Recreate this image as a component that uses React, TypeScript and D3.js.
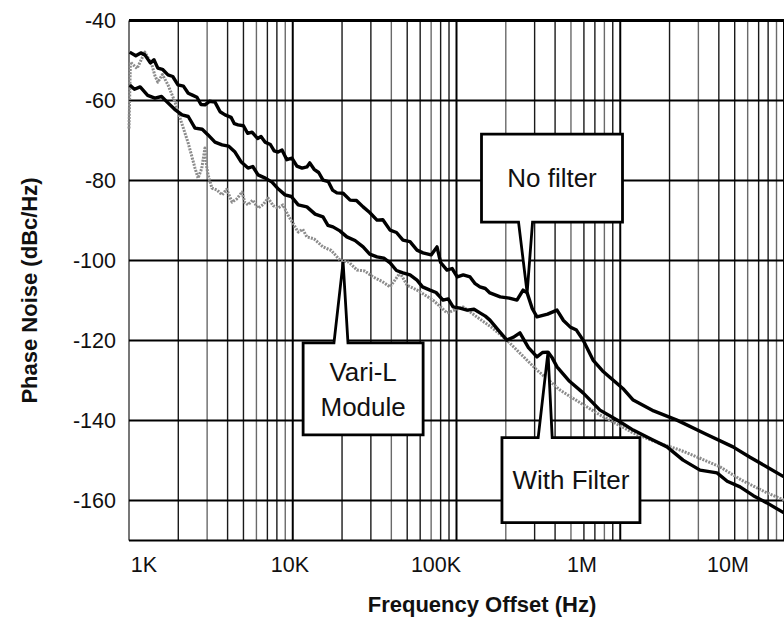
import React, { useRef, useEffect } from "react";
import * as d3 from "d3";

const W = 784;
const H = 621;
const margin = { top: 20.5, right: 0, bottom: 80.5, left: 129 };

// axis ticks
const freqTicks = [1e3, 1e4, 1e5, 1e6, 1e7];
const freqLabels = ["1K", "10K", "100K", "1M", "10M"];
const dbTicks = [-40, -60, -80, -100, -120, -140, -160];

// [offset frequency (Hz), phase noise (dBc/Hz)]
const noFilter: [number, number][] = [
  [1.01e3, -47.9], [1.1e3, -48.8], [1.18e3, -48.1], [1.25e3, -48.6],
  [1.35e3, -50.6], [1.42e3, -49.8], [1.5e3, -51.9], [1.6e3, -52.2],
  [1.73e3, -53.6], [1.85e3, -54.0], [1.99e3, -56.1], [2.15e3, -56.4],
  [2.3e3, -58.2], [2.42e3, -58.6], [2.6e3, -59.2], [2.75e3, -61.0],
  [2.91e3, -61.1], [3.1e3, -60.2], [3.35e3, -60.4], [3.6e3, -62.8],
  [3.86e3, -63.6], [4.2e3, -64.2], [4.4e3, -65.8], [4.63e3, -66.1],
  [5.0e3, -66.3], [5.3e3, -68.2], [5.64e3, -67.9], [6.1e3, -69.5],
  [6.4e3, -69.0], [6.77e3, -70.4], [7.3e3, -71.0], [7.7e3, -72.6],
  [8.13e3, -72.9], [8.6e3, -72.4], [9.2e3, -74.8], [9.89e3, -74.4],
  [10.6e3, -76.4], [11.4e3, -76.9], [12.2e3, -76.6], [12.7e3, -75.6],
  [13.5e3, -77.2], [14.4e3, -78.0], [15.3e3, -79.9], [16.5e3, -80.3],
  [17.5e3, -82.4], [18.6e3, -83.1], [20.3e3, -83.2], [22.4e3, -84.9],
  [24.5e3, -85.0], [26.9e3, -86.6], [29.5e3, -88.0], [32.7e3, -89.9],
  [35.5e3, -89.8], [39.3e3, -92.4], [43e3, -93.0], [47.1e3, -94.9],
  [52e3, -95.3], [57.4e3, -97.4], [62.4e3, -98.1], [70e3, -98.6],
  [76e3, -96.6], [80e3, -100.5], [87.5e3, -102.4], [94e3, -102.0],
  [101e3, -104.1], [110e3, -103.6], [121e3, -104.1], [130e3, -105.8],
  [139e3, -106.6], [150e3, -107.0], [160e3, -108.1], [185e3, -109.1],
  [210e3, -109.4], [234e3, -109.9], [255e3, -107.4], [270e3, -108.1],
  [290e3, -112.0], [310e3, -114.1], [360e3, -113.4], [411e3, -112.4],
  [450e3, -115.0], [494e3, -116.6], [540e3, -117.4], [593e3, -119.9],
  [682e3, -124.9], [780e3, -127.6], [903e3, -129.9], [1.05e6, -132.2],
  [1.2e6, -134.9], [1.6e6, -137.6], [2.22e6, -139.9], [3.3e6, -143.3],
  [4.88e6, -146.6], [6.2e6, -149.2], [7.87e6, -151.6], [10e6, -154.1],
];

const withFilter: [number, number][] = [
  [1.01e3, -56.1], [1.08e3, -57.2], [1.17e3, -56.6], [1.3e3, -58.7],
  [1.44e3, -59.4], [1.58e3, -59.0], [1.73e3, -60.6], [1.9e3, -62.2],
  [2.11e3, -63.6], [2.3e3, -64.0], [2.53e3, -66.9], [2.8e3, -67.2],
  [3.04e3, -68.6], [3.35e3, -70.4], [3.7e3, -71.1], [4.05e3, -71.4],
  [4.44e3, -72.9], [4.85e3, -75.4], [5.33e3, -76.9], [5.7e3, -76.5],
  [6.14e3, -78.6], [6.8e3, -79.4], [7.47e3, -80.4], [8.2e3, -82.2],
  [8.97e3, -83.6], [9.8e3, -84.0], [10.8e3, -86.1], [12.2e3, -86.6],
  [13.7e3, -88.4], [15.3e3, -89.1], [16.4e3, -91.2], [17.6e3, -91.6],
  [19.4e3, -92.6], [21.4e3, -94.1], [24e3, -95.0], [26.9e3, -96.6],
  [29.5e3, -98.4], [32.7e3, -99.1], [36e3, -99.4], [39.3e3, -100.6],
  [43e3, -102.5], [47.1e3, -103.1], [52e3, -103.6], [57.4e3, -104.9],
  [62e3, -106.6], [68.9e3, -107.4], [75e3, -108.0], [82.7e3, -109.9],
  [89e3, -109.6], [95.3e3, -111.6], [105e3, -111.9], [116e3, -112.4],
  [128e3, -112.2], [139e3, -113.1], [150e3, -113.9], [160e3, -114.9],
  [180e3, -117.4], [203e3, -119.9], [222e3, -119.2], [244e3, -118.1],
  [275e3, -121.8], [310e3, -124.1], [335e3, -123.0], [362e3, -122.9],
  [385e3, -124.4], [411e3, -126.6], [490e3, -130.2], [593e3, -133.1],
  [752e3, -137.4], [950e3, -139.8], [1.2e6, -142.4], [1.55e6, -144.7],
  [1.93e6, -146.6], [2.42e6, -149.9], [3.07e6, -152.4], [3.9e6, -153.1],
  [4.5e6, -155.2], [5.39e6, -156.6], [6.5e6, -158.8], [7.87e6, -160.6],
  [10e6, -163.1],
];

const variL: [number, number][] = [
  [1.0e3, -67.0], [1.02e3, -50.4], [1.12e3, -52.0], [1.25e3, -47.9],
  [1.38e3, -51.1], [1.44e3, -53.8], [1.5e3, -55.4], [1.6e3, -53.5],
  [1.73e3, -56.1], [1.91e3, -60.4], [2.05e3, -64.4], [2.29e3, -70.4],
  [2.53e3, -76.9], [2.64e3, -79.4], [2.78e3, -77.0], [2.91e3, -71.9],
  [2.98e3, -76.5], [3.04e3, -78.6], [3.21e3, -81.9], [3.45e3, -82.4],
  [3.7e3, -83.6], [3.95e3, -82.2], [4.26e3, -85.4], [4.55e3, -84.6],
  [4.9e3, -82.9], [5.1e3, -85.5], [5.33e3, -86.1], [5.7e3, -84.9],
  [6.14e3, -86.9], [6.6e3, -86.0], [7.07e3, -84.4], [7.6e3, -86.3],
  [8.13e3, -86.9], [8.7e3, -86.1], [9.35e3, -88.6], [10.8e3, -92.9],
  [11.5e3, -92.2], [12.2e3, -94.1], [13.5e3, -94.6], [15.3e3, -96.6],
  [17.2e3, -97.5], [19.4e3, -99.9], [22e3, -100.4], [24.7e3, -102.4],
  [27.5e3, -102.6], [30.9e3, -104.1], [35e3, -105.2], [39.3e3, -106.6],
  [45.2e3, -103.1], [50e3, -106.2], [57.4e3, -107.4], [64e3, -108.6],
  [71.8e3, -109.9], [79e3, -111.4], [87.5e3, -113.1], [110e3, -111.6],
  [133e3, -114.1], [165e3, -116.8], [203e3, -119.9], [250e3, -123.6],
  [310e3, -127.4], [429e3, -132.4], [560e3, -135.4], [752e3, -138.6],
  [1.2e6, -143.1], [1.7e6, -145.6], [2.32e6, -147.4], [3.1e6, -149.5],
  [4.07e6, -151.6], [5.5e6, -154.9], [7.87e6, -158.1], [10e6, -159.9],
];

// callouts: box centre and pointer tip in data units, box size in px
const callouts = [
  { lines: ["No filter"], center: [383e3, -79.4], tip: [270e3, -108.1], base: 264e3, w: 141, h: 88, side: "bottom" },
  { lines: ["With Filter"], center: [500e3, -154.9], tip: [362e3, -122.9], base: 348e3, w: 138, h: 85, side: "top" },
  { lines: ["Vari-L", "Module"], center: [26.9e3, -132.1], tip: [20.3e3, -100.4], base: 19.7e3, w: 120, h: 92, side: "top" },
];

const FONT = "'Liberation Sans', Arial, Helvetica, sans-serif";

const App = () => {
  const ref = useRef<SVGSVGElement>(null);

  useEffect(() => {
    if (!ref.current) return;
    const svg = d3.select(ref.current);
    svg.selectAll("*").remove();

    const x = d3.scaleLog().domain([1e3, 1e7]).range([margin.left, W - margin.right]);
    const y = d3.scaleLinear().domain([-170, -40]).range([H - margin.bottom, margin.top]);
    // the printed decade labels sit on a slightly compressed spacing in the original
    const xLabel = d3.scaleLog().domain([1e3, 1e7]).range([144, 728]);

    svg.append("rect").attr("width", W).attr("height", H).attr("fill", "#fff");

    const grid = svg.append("g");
    const minor: number[] = [];
    for (let d = 3; d < 7; d++) for (let k = 2; k <= 9; k++) minor.push(k * Math.pow(10, d));

    grid.selectAll("line.minor").data(minor).enter().append("line")
      .attr("x1", (d) => x(d)).attr("x2", (d) => x(d))
      .attr("y1", y(-40)).attr("y2", y(-170))
      .attr("stroke", (d, i) => (i % 3 === 1 ? "#6a6a6a" : "#1a1a1a"))
      .attr("stroke-width", 1.4);

    grid.selectAll("line.major").data(freqTicks).enter().append("line")
      .attr("x1", (d) => x(d)).attr("x2", (d) => x(d))
      .attr("y1", y(-40)).attr("y2", y(-170))
      .attr("stroke", (d) => (d === 1e3 ? "#777" : "#000"))
      .attr("stroke-width", 2);

    grid.selectAll("line.h").data(dbTicks.slice(1).concat([-170])).enter().append("line")
      .attr("x1", x(1e3)).attr("x2", W)
      .attr("y1", (d) => y(d)).attr("y2", (d) => y(d))
      .attr("stroke", "#000").attr("stroke-width", 1.8);

    grid.append("line")
      .attr("x1", x(1e3)).attr("x2", W)
      .attr("y1", y(-40)).attr("y2", y(-40))
      .attr("stroke", "#000").attr("stroke-width", 3);

    const line = d3.line<[number, number]>().x((d) => x(d[0])).y((d) => y(d[1]));

    svg.append("path").datum(variL)
      .attr("d", line).attr("fill", "none")
      .attr("stroke", "#8c8c8c").attr("stroke-width", 3)
      .attr("stroke-dasharray", "2 1.2").attr("stroke-linejoin", "round");

    [withFilter, noFilter].forEach((s) => {
      svg.append("path").datum(s)
        .attr("d", line).attr("fill", "none")
        .attr("stroke", "#000").attr("stroke-width", 3.4)
        .attr("stroke-linejoin", "round");
    });

    // callout boxes
    callouts.forEach((c) => {
      const cx = x(c.center[0]);
      const cy = y(c.center[1]);
      const x0 = cx - c.w / 2, x1 = cx + c.w / 2;
      const y0 = cy - c.h / 2, y1 = cy + c.h / 2;
      const tx = x(c.tip[0]), ty = y(c.tip[1]);
      const bx = x(c.base);
      const bl = bx - 7, br = bx + 7;
      const d = c.side === "top"
        ? `M${x0},${y0}L${bl},${y0}L${tx},${ty}L${br},${y0}L${x1},${y0}L${x1},${y1}L${x0},${y1}Z`
        : `M${x0},${y0}L${x1},${y0}L${x1},${y1}L${br},${y1}L${tx},${ty}L${bl},${y1}L${x0},${y1}Z`;
      svg.append("path").attr("d", d)
        .attr("fill", "#fff").attr("stroke", "#000")
        .attr("stroke-width", 2.8).attr("stroke-linejoin", "miter");

      const fs = 26;
      const lh = 35;
      const first = cy - ((c.lines.length - 1) * lh) / 2 + fs * 0.36;
      const t = svg.append("text")
        .attr("font-family", FONT).attr("font-size", fs)
        .attr("text-anchor", "middle").attr("fill", "#111");
      c.lines.forEach((l, i) => {
        t.append("tspan").attr("x", cx).attr("y", first + i * lh).text(l);
      });
    });

    // tick labels
    svg.selectAll("text.ytick").data(dbTicks).enter().append("text")
      .attr("x", margin.left - 13).attr("y", (d) => y(d))
      .attr("dy", "0.36em")
      .attr("text-anchor", "end")
      .attr("font-family", FONT).attr("font-size", 21.5).attr("fill", "#111")
      .text((d) => String(d));

    svg.selectAll("text.xtick").data(freqTicks).enter().append("text")
      .attr("x", (d) => xLabel(d)).attr("y", H - margin.bottom + 31)
      .attr("text-anchor", "middle")
      .attr("font-family", FONT).attr("font-size", 21.5).attr("fill", "#111")
      .text((d, i) => freqLabels[i]);

    svg.append("text")
      .attr("x", 482).attr("y", H - 9)
      .attr("text-anchor", "middle")
      .attr("font-family", FONT).attr("font-size", 22).attr("font-weight", "bold")
      .attr("fill", "#111")
      .text("Frequency Offset (Hz)");

    svg.append("text")
      .attr("transform", `translate(37,${(margin.top + H - margin.bottom) / 2 + 10}) rotate(-90)`)
      .attr("text-anchor", "middle")
      .attr("font-family", FONT).attr("font-size", 22).attr("font-weight", "bold")
      .attr("fill", "#111")
      .text("Phase Noise (dBc/Hz)");
  }, []);

  return (
    <svg
      ref={ref}
      width={W}
      height={H}
      style={{ position: "absolute", left: 0, top: 0, display: "block" }}
    />
  );
};

export default App;
